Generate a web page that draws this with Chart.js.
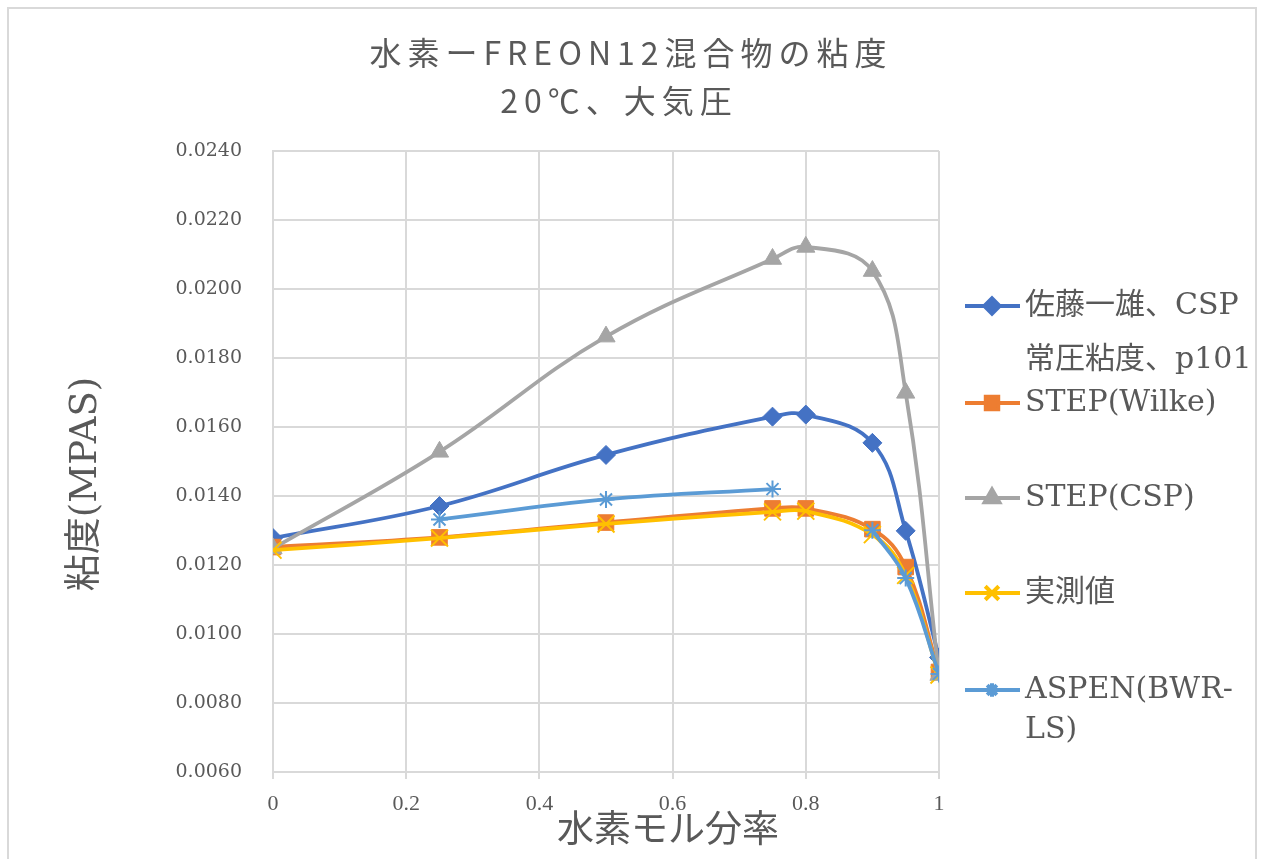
<!DOCTYPE html>
<html>
<head>
<meta charset="utf-8">
<script src="https://cdn.jsdelivr.net/npm/chart.js@4.4.0/dist/chart.umd.min.js"></script>
<style>
  html, body { margin: 0; padding: 0; background: #fff; overflow: hidden; }
  #wrap { position: relative; width: 1267px; height: 859px; }
  #frame { position: absolute; left: 7px; top: 7px; width: 1250px; height: 870px; border: 2px solid #D9D9D9; box-sizing: border-box; }
  canvas { position: absolute; left: 0; top: 0; }
</style>
</head>
<body>
<div id="wrap">
  <div id="frame"></div>
  <canvas id="grafico" width="1267" height="859"></canvas>
</div>
<script>
// datos
const fraccionH2 = [0, 0.25, 0.5, 0.75, 0.8, 0.9, 0.95, 1];
const satoCsp   = [0.01278, 0.01371, 0.01519, 0.01630, 0.01636, 0.01554, 0.01299, 0.00932];
const stepWilke = [0.01252, 0.01280, 0.01323, 0.01364, 0.01364, 0.01304, 0.01194, 0.00890];
const stepCsp   = [0.01248, 0.01528, 0.01862, 0.02087, 0.02122, 0.02052, 0.01699, 0.00881];
const jissoku   = [0.01243, 0.01278, 0.01319, 0.01354, 0.01356, 0.01288, 0.01170, 0.00881];
const aspenBwr  = [null, 0.01332, 0.01390, 0.01420, null, 0.01301, 0.01162, 0.00884];

const tituloLineas = ['水素ーFREON12混合物の粘度', '20℃、大気圧'];
const tituloX = '水素モル分率';
const tituloY = '粘度(MPAS)';
const leyenda = [
    { lineas: ['佐藤一雄、CSP', '常圧粘度、p101'], ys: [306, 360] },
    { lineas: ['STEP(Wilke)'], ys: [403] },
    { lineas: ['STEP(CSP)'], ys: [498] },
    { lineas: ['実測値'], ys: [593] },
    { lineas: ['ASPEN(BWR-', 'LS)'], ys: [690, 730] }
];

const fuenteSerif = '"DejaVu Serif", "Noto Sans CJK JP", serif';
const fuenteTicksX = '"Liberation Serif", serif';
const gris = '#595959';

function serie(label, valores, color, estilo, radio, bordePunto, orden) {
    return {
        label: label,
        data: fraccionH2.map((x, i) => ({ x: x, y: valores[i] })),
        borderColor: color,
        backgroundColor: color,
        pointBackgroundColor: color,
        pointBorderColor: color,
        pointStyle: estilo,
        pointRadius: radio,
        pointBorderWidth: bordePunto,
        borderWidth: 3.8,
        tension: 0.4,
        spanGaps: false,
        order: orden
    };
}

const datasets = [
    serie('佐藤一雄、CSP 常圧粘度、p101', satoCsp, '#4472C4', 'rectRot', 9.5, 1, 5),
    serie('STEP(Wilke)', stepWilke, '#ED7D31', 'rect', 11, 1, 4),
    serie('STEP(CSP)', stepCsp, '#A5A5A5', 'triangle', 10.5, 1, 3),
    serie('実測値', jissoku, '#FFC000', 'crossRot', 12, 2, 2),
    serie('ASPEN(BWR-LS)', aspenBwr, '#5B9BD5', 'star', 8.5, 2, 1)
];

const textosExtra = {
    id: 'textosExtra',
    afterDraw(chart) {
        const ctx = chart.ctx;
        ctx.save();
        ctx.fillStyle = gris;
        ctx.textBaseline = 'middle';

        // titulo
        ctx.font = '32px "Noto Sans CJK JP", sans-serif';
        ctx.letterSpacing = '6px';
        ctx.textAlign = 'center';
        ctx.fillText(tituloLineas[0], 628 + 3, 53);
        ctx.fillText(tituloLineas[1], 616 + 3, 101);
        ctx.letterSpacing = '0px';

        // titulos de ejes
        ctx.font = '37px ' + fuenteSerif;
        ctx.fillText(tituloX, 668, 832);
        ctx.save();
        ctx.translate(86, 484);
        ctx.rotate(-Math.PI / 2);
        ctx.fillText(tituloY, 0, 0);
        ctx.restore();

        // leyenda
        ctx.font = '30px ' + fuenteSerif;
        ctx.textAlign = 'left';
        leyenda.forEach((item, i) => {
            const ds = chart.data.datasets[i];
            const y0 = item.ys[0];
            ctx.strokeStyle = ds.borderColor;
            ctx.lineWidth = 4;
            ctx.beginPath();
            ctx.moveTo(965, y0);
            ctx.lineTo(1020, y0);
            ctx.stroke();
            ctx.fillStyle = ds.borderColor;
            Chart.helpers.drawPoint(ctx, {
                pointStyle: ds.pointStyle,
                radius: ds.pointRadius * 0.8,
                rotation: 0,
                borderWidth: ds.pointBorderWidth
            }, 992, y0);
            ctx.fillStyle = gris;
            item.lineas.forEach((t, j) => ctx.fillText(t, 1025, item.ys[j]));
        });
        ctx.restore();
    }
};

const ctx = document.getElementById('grafico').getContext('2d');
new Chart(ctx, {
    type: 'line',
    data: { datasets: datasets },
    options: {
        responsive: false,
        animation: false,
        layout: { padding: { left: 0, top: 151, right: 328, bottom: 0 } },
        plugins: {
            legend: { display: false },
            title: { display: false },
            tooltip: { enabled: false }
        },
        scales: {
            x: {
                type: 'linear',
                min: 0,
                max: 1,
                afterFit: s => { s.height = 87; },
                grid: { color: '#D9D9D9', lineWidth: 2, drawTicks: true, tickLength: 7, tickColor: '#D9D9D9' },
                border: { color: '#D9D9D9', width: 2 },
                ticks: {
                    stepSize: 0.2,
                    padding: 12,
                    color: gris,
                    font: { family: fuenteTicksX, size: 22 },
                    callback: v => String(+v.toFixed(1))
                }
            },
            y: {
                min: 0.006,
                max: 0.024,
                afterFit: s => { s.width = 273; },
                grid: { color: '#D9D9D9', lineWidth: 2, drawTicks: false },
                border: { color: '#D9D9D9', width: 2 },
                ticks: {
                    stepSize: 0.002,
                    padding: 31,
                    color: gris,
                    font: { family: fuenteSerif, size: 19 },
                    callback: v => v.toFixed(4)
                }
            }
        }
    },
    plugins: [textosExtra]
});
</script>
</body>
</html>
